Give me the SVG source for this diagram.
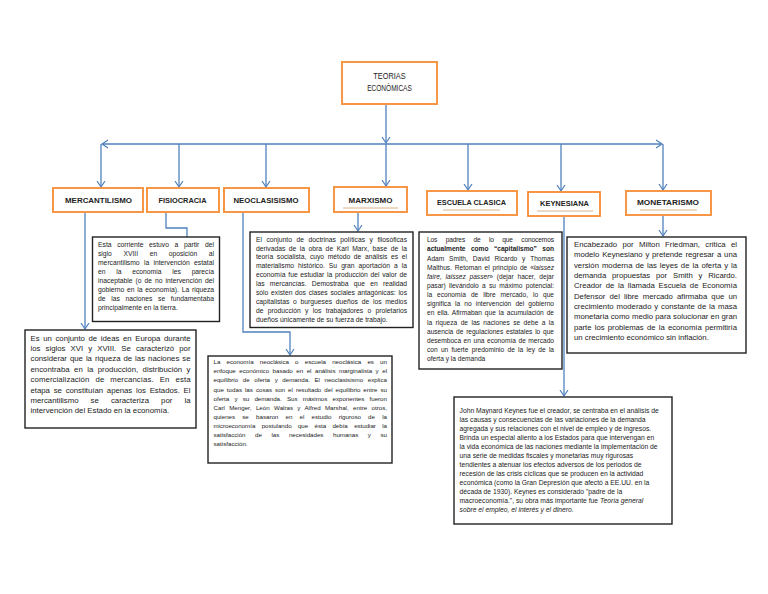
<svg xmlns="http://www.w3.org/2000/svg" width="768" height="594" viewBox="0 0 768 594">
<style>
.hd{fill:#fff;stroke:#f79646;stroke-width:2}
.ht{font-family:"Liberation Sans",Arial,sans-serif;font-weight:bold;font-size:7.2px;fill:#222;text-anchor:middle}
.tt{font-family:"Liberation Sans",Arial,sans-serif;font-size:8.2px;fill:#222;text-anchor:middle}
.ul{stroke:#d8b48e;stroke-width:1}
.bx{fill:#fff;stroke:#222;stroke-width:1.4}
.b{font-family:"Liberation Sans",Arial,sans-serif;fill:#222}
.c{fill:none;stroke:#4f81bd;stroke-width:1.3}
.i{font-style:italic}
</style>
<defs>
<marker id="ah" markerUnits="userSpaceOnUse" markerWidth="10" markerHeight="10" refX="6" refY="4" orient="auto" viewBox="0 0 10 8">
<path d="M0,0 L6,4 L0,8" fill="none" stroke="#4f81bd" stroke-width="1.2"/>
</marker>
</defs>
<rect width="768" height="594" fill="#fff"/>

<g id="connectors">
<path class="c" d="M386,104 V143" marker-end="url(#ah)"/>
<path class="c" d="M386,144 H102" marker-end="url(#ah)"/>
<path class="c" d="M386,144 H662" marker-end="url(#ah)"/>
<path class="c" d="M101,144 V187" marker-end="url(#ah)"/>
<path class="c" d="M179,144 V187" marker-end="url(#ah)"/>
<path class="c" d="M266,144 V187" marker-end="url(#ah)"/>
<path class="c" d="M386,144 V186" marker-end="url(#ah)"/>
<path class="c" d="M468,144 V190" marker-end="url(#ah)"/>
<path class="c" d="M561,144 V191" marker-end="url(#ah)"/>
<path class="c" d="M663,144 V190" marker-end="url(#ah)"/>
<path class="c" d="M85,212 V329" marker-end="url(#ah)"/>
<path class="c" d="M166,212 V228 H187 V237"/>
<path class="c" d="M243,212 V332 H290 V355" marker-end="url(#ah)"/>
<path class="c" d="M358,213 V231" marker-end="url(#ah)"/>
<path class="c" d="M564,216 V396" marker-end="url(#ah)"/>
<path class="c" d="M663,215 V236" marker-end="url(#ah)"/>
</g>

<g id="title">
<rect class="hd" x="342" y="62" width="95" height="42"/>
<text class="tt" transform="translate(389.5,78.5) scale(0.9,1)" x="0" y="0">TEORIAS</text>
<text class="tt" transform="translate(389.5,91.2) scale(0.8,1)" x="0" y="0">ECONÓMICAS</text>
</g>

<g id="h-mercantilismo">
<rect class="hd" x="53" y="188" width="90" height="24"/>
<text class="ht" x="98.5" y="202.5" textLength="67" lengthAdjust="spacingAndGlyphs">MERCANTILISMO</text>
</g>
<g id="h-fisiocracia">
<rect class="hd" x="147" y="188" width="72" height="24"/>
<text class="ht" x="182.5" y="202.5" textLength="48" lengthAdjust="spacingAndGlyphs">FISIOCRACIA</text>
</g>
<g id="h-neoclasisismo">
<rect class="hd" x="224" y="188" width="85" height="24"/>
<text class="ht" x="266" y="202.5" textLength="65" lengthAdjust="spacingAndGlyphs">NEOCLASISISMO</text>
</g>
<g id="h-marxismo">
<rect class="hd" x="334" y="187" width="73" height="25"/>
<text class="ht" x="370.5" y="202.5" textLength="44" lengthAdjust="spacingAndGlyphs">MARXISMO</text>
<line class="ul" x1="343" y1="208" x2="398" y2="208"/>
</g>
<g id="h-escuela">
<rect class="hd" x="427" y="191" width="90" height="24"/>
<text class="ht" x="471.5" y="204.5" textLength="69" lengthAdjust="spacingAndGlyphs">ESCUELA CLASICA</text>
<line class="ul" x1="443" y1="210" x2="500" y2="210"/>
</g>
<g id="h-keynesiana">
<rect class="hd" x="528" y="192" width="72" height="24"/>
<text class="ht" x="564.5" y="205.5" textLength="49" lengthAdjust="spacingAndGlyphs">KEYNESIANA</text>
<line class="ul" x1="537" y1="211" x2="593" y2="211"/>
</g>
<g id="h-monetarismo">
<rect class="hd" x="626" y="191" width="85" height="24"/>
<text class="ht" x="668" y="204.5" textLength="62" lengthAdjust="spacingAndGlyphs">MONETARISMO</text>
<line class="ul" x1="640" y1="210" x2="697" y2="210"/>
</g>

<g id="t-fisiocracia" class="b" font-size="6.75">
<rect class="bx" x="92.5" y="237" width="127" height="84.5"/>
<text x="98" y="246.5" word-spacing="3.76" textLength="116" lengthAdjust="spacing">Esta corriente estuvo a partir del</text>
<text x="98" y="255.6" word-spacing="9.7" textLength="116" lengthAdjust="spacing">siglo XVIII en oposición al</text>
<text x="98" y="264.6" word-spacing="2.4" textLength="116" lengthAdjust="spacing">mercantilismo la intervención estatal</text>
<text x="98" y="273.7" word-spacing="8.9" textLength="116" lengthAdjust="spacing">en la economía les parecía</text>
<text x="98" y="282.8" word-spacing="1.1" textLength="116" lengthAdjust="spacing">inaceptable (o de no intervención del</text>
<text x="98" y="291.8" word-spacing="0.9" textLength="116" lengthAdjust="spacing">gobierno en la economía). La riqueza</text>
<text x="98" y="300.9" word-spacing="3.8" textLength="116" lengthAdjust="spacing">de las naciones se fundamentaba</text>
<text x="98" y="310">principalmente en la tierra.</text>
</g>

<g id="t-mercantilismo" class="b" font-size="7.8">
<rect class="bx" x="25" y="330" width="171" height="98"/>
<text x="30.5" y="340.5" word-spacing="1.4" textLength="160" lengthAdjust="spacing">Es un conjunto de ideas en Europa durante</text>
<text x="30.5" y="350.9" word-spacing="2.9" textLength="160" lengthAdjust="spacing">los siglos XVI y XVIII. Se caracterizó por</text>
<text x="30.5" y="361.3" word-spacing="0.8" textLength="160" lengthAdjust="spacing">considerar que la riqueza de las naciones se</text>
<text x="30.5" y="371.7" word-spacing="2.3" textLength="160" lengthAdjust="spacing">encontraba en la producción, distribución y</text>
<text x="30.5" y="382.1" word-spacing="3.8" textLength="160" lengthAdjust="spacing">comercialización de mercancías. En esta</text>
<text x="30.5" y="392.5" word-spacing="1.65" textLength="160" lengthAdjust="spacing">etapa se constituían apenas los Estados. El</text>
<text x="30.5" y="402.9" word-spacing="9.9" textLength="160" lengthAdjust="spacing">mercantilismo se caracteriza por la</text>
<text x="30.5" y="413.3">intervención del Estado en la economía.</text>
</g>

<g id="t-marxismo" class="b" font-size="6.75">
<rect class="bx" x="250" y="232" width="163" height="95.5"/>
<text x="256" y="241.5" word-spacing="2.65" textLength="151" lengthAdjust="spacing">El conjunto de doctrinas políticas y filosóficas</text>
<text x="256" y="250.5" word-spacing="1.6" textLength="151" lengthAdjust="spacing">derivadas de la obra de Karl Marx, base de la</text>
<text x="256" y="259.4" word-spacing="1.8" textLength="151" lengthAdjust="spacing">teoría socialista, cuyo método de análisis es el</text>
<text x="256" y="268.4" word-spacing="2.2" textLength="151" lengthAdjust="spacing">materialismo histórico. Su gran aportación a la</text>
<text x="256" y="277.4" word-spacing="0.8" textLength="151" lengthAdjust="spacing">economía fue estudiar la producción del valor de</text>
<text x="256" y="286.4" word-spacing="3.4" textLength="151" lengthAdjust="spacing">las mercancías. Demostraba que en realidad</text>
<text x="256" y="295.3" word-spacing="0.8" textLength="151" lengthAdjust="spacing">sólo existen dos clases sociales antagónicas: los</text>
<text x="256" y="304.3" word-spacing="1.85" textLength="151" lengthAdjust="spacing">capitalistas o burgueses dueños de los medios</text>
<text x="256" y="313.3" word-spacing="2.5" textLength="151" lengthAdjust="spacing">de producción y los trabajadores o proletarios</text>
<text x="256" y="322.2">dueños únicamente de su fuerza de trabajo.</text>
</g>

<g id="t-neoclasisismo" class="b" font-size="6.2">
<rect class="bx" x="208" y="356" width="184" height="107"/>
<text x="213.5" y="364.2" word-spacing="4.5" textLength="173.5" lengthAdjust="spacing">La economía neoclásica o escuela neoclásica es un</text>
<text x="213.5" y="373.3" word-spacing="1.8" textLength="173.5" lengthAdjust="spacing">enfoque económico basado en el análisis marginalista y el</text>
<text x="213.5" y="382.4" word-spacing="2.9" textLength="173.5" lengthAdjust="spacing">equilibrio de oferta y demanda. El neoclasisismo explica</text>
<text x="213.5" y="391.5" word-spacing="1.3" textLength="173.5" lengthAdjust="spacing">que todas las cosas son el resultado del equilibrio entre su</text>
<text x="213.5" y="400.6" word-spacing="3.5" textLength="173.5" lengthAdjust="spacing">oferta y su demanda. Sus máximos exponentes fueron</text>
<text x="213.5" y="409.7" word-spacing="2.6" textLength="173.5" lengthAdjust="spacing">Carl Menger, León Walras y Alfred Marshal, entre otros,</text>
<text x="213.5" y="418.8" word-spacing="5.5" textLength="173.5" lengthAdjust="spacing">quienes se basaron en el estudio riguroso de la</text>
<text x="213.5" y="427.9" word-spacing="4.7" textLength="173.5" lengthAdjust="spacing">microeconomía postulando que ésta debía estudiar la</text>
<text x="213.5" y="437" word-spacing="7.9" textLength="173.5" lengthAdjust="spacing">satisfacción de las necesidades humanas y su</text>
<text x="213.5" y="446.1">satisfacción.</text>
</g>

<g id="t-escuela" class="b" font-size="6.6">
<rect class="bx" x="419" y="232" width="143" height="137"/>
<text x="427" y="242.2" word-spacing="6.7" textLength="127" lengthAdjust="spacing">Los padres de lo que conocemos</text>
<text x="427" y="251.4" word-spacing="3.6" textLength="127" lengthAdjust="spacing" font-weight="bold">actualmente como “capitalismo” son</text>
<text x="427" y="260.5" word-spacing="3" textLength="127" lengthAdjust="spacing">Adam Smith, David Ricardo y Thomas</text>
<text x="427" y="269.7" word-spacing="1" textLength="127" lengthAdjust="spacing">Malthus. Retoman el principio de «<tspan class="i">laissez</tspan></text>
<text x="427" y="278.8" word-spacing="1.9" textLength="127" lengthAdjust="spacing"><tspan class="i">faire, laissez passer</tspan>» (dejar hacer, dejar</text>
<text x="427" y="287.9" word-spacing="1.5" textLength="127" lengthAdjust="spacing">pasar) llevándolo a su máximo potencial:</text>
<text x="427" y="297.1" word-spacing="3.1" textLength="127" lengthAdjust="spacing">la economía de libre mercado, lo que</text>
<text x="427" y="306.2" word-spacing="2.3" textLength="127" lengthAdjust="spacing">significa la no intervención del gobierno</text>
<text x="427" y="315.4" word-spacing="1.05" textLength="127" lengthAdjust="spacing">en ella. Afirmaban que la acumulación de</text>
<text x="427" y="324.5" word-spacing="1.6" textLength="127" lengthAdjust="spacing">la riqueza de las naciones se debe a la</text>
<text x="427" y="333.7" word-spacing="1" textLength="127" lengthAdjust="spacing">ausencia de regulaciones estatales lo que</text>
<text x="427" y="342.8" word-spacing="0.7" textLength="127" lengthAdjust="spacing">desemboca en una economía de mercado</text>
<text x="427" y="351.9" word-spacing="1.5" textLength="127" lengthAdjust="spacing">con un fuerte predominio de la ley de la</text>
<text x="427" y="361.1">oferta y la demanda</text>
</g>

<g id="t-monetarismo" class="b" font-size="7.75">
<rect class="bx" x="567" y="237" width="179" height="116"/>
<text x="574" y="247" word-spacing="3.2" textLength="163" lengthAdjust="spacing">Encabezado por Milton Friedman, critica el</text>
<text x="574" y="257.3" word-spacing="0.65" textLength="163" lengthAdjust="spacing">modelo Keynesiano y pretende regresar a una</text>
<text x="574" y="267.7" word-spacing="0.8" textLength="163" lengthAdjust="spacing">versión moderna de las leyes de la oferta y la</text>
<text x="574" y="278" word-spacing="3.7" textLength="163" lengthAdjust="spacing">demanda propuestas por Smith y Ricardo.</text>
<text x="574" y="288.3" word-spacing="1.6" textLength="163" lengthAdjust="spacing">Creador de la llamada Escuela de Economía</text>
<text x="574" y="298.7" word-spacing="2" textLength="163" lengthAdjust="spacing">Defensor del libre mercado afirmaba que un</text>
<text x="574" y="309" word-spacing="0.75" textLength="163" lengthAdjust="spacing">crecimiento moderado y constante de la masa</text>
<text x="574" y="319.3" word-spacing="0.1" textLength="163" lengthAdjust="spacing">monetaria como medio para solucionar en gran</text>
<text x="574" y="329.6" word-spacing="1.1" textLength="163" lengthAdjust="spacing">parte los problemas de la economía permitiría</text>
<text x="574" y="340">un crecimiento económico sin inflación.</text>
</g>

<g id="t-keynesiana" class="b" font-size="6.75">
<rect class="bx" x="454" y="397" width="218" height="127"/>
<text x="459.5" y="413">John Maynard Keynes fue el creador, se centraba en el análisis de</text>
<text x="459.5" y="422">las causas y consecuencias de las variaciones de la demanda</text>
<text x="459.5" y="431">agregada y sus relaciones con el nivel de empleo y de ingresos.</text>
<text x="459.5" y="440">Brinda un especial aliento a los Estados para que intervengan en</text>
<text x="459.5" y="449">la vida económica de las naciones mediante la implementación de</text>
<text x="459.5" y="458">una serie de medidas fiscales y monetarias muy rigurosas</text>
<text x="459.5" y="467">tendientes a atenuar los efectos adversos de los periodos de</text>
<text x="459.5" y="476">recesión de las crisis cíclicas que se producen en la actividad</text>
<text x="459.5" y="485">económica (como la Gran Depresión que afectó a EE.UU. en la</text>
<text x="459.5" y="494">década de 1930). Keynes es considerado "padre de la</text>
<text x="459.5" y="503">macroeconomía.", su obra más importante fue <tspan class="i">Teoría general</tspan></text>
<text x="459.5" y="512" class="i">sobre el empleo, el interés y el dinero.</text>
</g>
</svg>
